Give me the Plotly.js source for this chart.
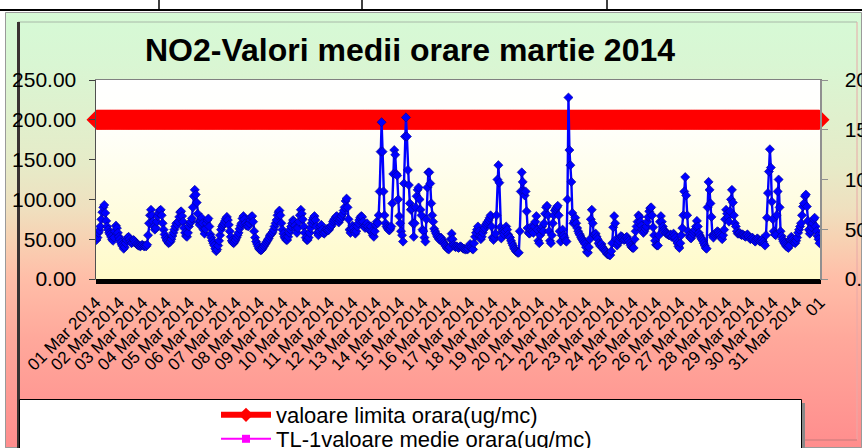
<!DOCTYPE html>
<html>
<head>
<meta charset="utf-8">
<script src="https://cdn.plot.ly/plotly-3.0.1.min.js"></script>
<style>html,body{margin:0;padding:0;background:#fff;}#chart{width:862px;height:448px;}</style>
</head>
<body>
<div id="chart"></div>
<script>
// ---- DATA: NO2 hourly means, March 2014 (ug/mc) ----
const day01 = [49,52,58,61,66,75,84,90,93,83,73,66,62,58,56,53,50,48,52,60,67,64,58,53];
const day02 = [50,46,43,41,38,40,45,49,52,53,50,47,45,46,49,48,46,44,43,42,42,41,42,43];
const day03 = [42,41,42,41,43,55,70,80,87,80,72,66,62,64,72,79,83,86,87,80,70,62,56,52];
const day04 = [49,47,45,46,47,50,54,58,62,66,70,68,72,78,84,85,79,72,64,58,54,53,58,66];
const day05 = [70,72,76,90,104,112,106,96,82,72,68,73,77,70,62,57,63,70,74,76,66,56,52,48];
const day06 = [45,42,38,35,37,42,48,55,62,66,68,70,73,76,78,74,68,60,53,48,46,45,47,49];
const day07 = [52,55,58,63,67,70,76,79,75,70,67,68,66,70,74,78,79,72,60,52,47,44,41,38];
const day08 = [37,36,37,39,41,43,45,47,49,51,54,56,57,59,62,66,70,74,80,84,86,80,70,62];
const day09 = [57,53,51,49,49,53,58,62,66,70,74,72,67,63,58,64,72,80,87,82,75,66,58,52];
const day10 = [49,49,52,58,64,70,74,77,79,74,66,58,55,60,66,68,62,58,57,59,62,63,61,62];
const day11 = [65,66,68,72,74,76,78,79,75,71,74,76,79,82,86,90,98,101,90,75,62,58,63,67];
const day12 = [64,60,57,60,66,70,74,77,79,78,72,66,64,67,70,66,62,61,66,60,55,53,60,68];
const day13 = [72,70,80,110,160,197,160,110,80,70,66,64,62,61,63,66,95,132,162,156,132,130,100,79];
const day14 = [70,60,55,47,120,179,203,179,137,118,95,87,88,70,53,70,90,104,112,115,100,87,80,62];
const day15 = [60,52,47,75,115,134,134,120,95,80,72,63,60,57,54,52,50,49,52,50,47,45,43,41];
const day16 = [39,38,37,40,50,57,50,43,41,40,41,40,39,40,41,40,39,38,38,37,38,37,38,41];
const day17 = [44,40,38,37,45,53,58,62,66,60,54,50,53,58,62,64,68,70,72,74,77,80,66,52];
const day18 = [49,52,57,80,125,143,121,65,51,60,58,56,60,66,62,56,53,52,48,45,42,39,37,35];
const day19 = [34,33,33,60,110,134,122,110,105,110,85,64,58,57,62,66,60,58,66,72,79,62,48,45];
const day20 = [55,62,66,60,70,82,90,92,80,60,48,45,55,70,80,86,88,90,92,80,60,47,55,62];
const day21 = [55,52,48,47,100,228,162,143,122,83,70,73,77,70,64,60,57,55,52,50,48,46,44,40];
const day22 = [34,33,40,50,75,87,70,56,55,57,53,50,45,43,41,44,40,38,36,35,33,31,31,30];
const day23 = [30,35,45,65,79,70,50,42,45,48,52,54,53,51,49,50,52,53,50,48,45,42,40,39];
const day24 = [39,50,60,66,72,80,78,72,67,62,58,60,63,66,72,78,85,89,90,80,65,55,48,43];
const day25 = [42,42,55,72,79,72,66,62,60,58,57,56,55,55,56,53,54,57,55,52,48,45,41,39];
const day26 = [45,55,64,80,110,128,105,80,60,55,52,51,54,57,60,62,66,73,66,58,55,52,50,48];
const day27 = [45,42,39,38,90,122,112,95,78,55,52,55,57,58,60,59,57,55,52,50,55,62,75,87];
const day28 = [82,78,72,85,100,112,96,80,70,66,60,57,57,58,56,55,56,55,54,53,55,56,54,52];
const day29 = [50,51,52,50,48,47,49,51,50,48,47,48,50,47,44,42,55,77,108,135,163,140,97,75];
const day30 = [60,56,55,80,110,125,90,60,54,50,47,45,43,41,40,39,42,50,53,50,47,46,45,48];
const day31 = [52,58,62,66,70,80,91,95,104,106,91,73,62,57,60,65,70,75,77,66,60,54,50,45];

const dayLabels = ['01 Mar 2014','02 Mar 2014','03 Mar 2014','04 Mar 2014','05 Mar 2014','06 Mar 2014',
  '07 Mar 2014','08 Mar 2014','09 Mar 2014','10 Mar 2014','11 Mar 2014','12 Mar 2014','13 Mar 2014',
  '14 Mar 2014','15 Mar 2014','16 Mar 2014','17 Mar 2014','18 Mar 2014','19 Mar 2014','20 Mar 2014',
  '21 Mar 2014','22 Mar 2014','23 Mar 2014','24 Mar 2014','25 Mar 2014','26 Mar 2014','27 Mar 2014',
  '28 Mar 2014','29 Mar 2014','30 Mar 2014','31 Mar 2014','01'];
const limitValue = 200;           // valoare limita orara
const tl1Values = [null];         // TL-1 series: no data shown
const leftTicks = [0,50,100,150,200,250];
const rightTicks = [0,50,100,150,200];

// ---- build ----
const days = [day01,day02,day03,day04,day05,day06,day07,day08,day09,day10,day11,day12,day13,day14,day15,
  day16,day17,day18,day19,day20,day21,day22,day23,day24,day25,day26,day27,day28,day29,day30,day31];
const no2 = [].concat(...days);
const hours = no2.map((v,i)=>i);
const limitSeries = no2.map(()=>limitValue);
// a tick mark between every hourly category, a label every 24 categories
const tickVals = [], tickText = [];
for(let i=0;i<=no2.length;i++){
  tickVals.push(i-0.5);
  tickText.push(i%24===0 ? (dayLabels[i/24]||'') : '');
}

const W=862,H=448,L=96,R=820,T=80,B=279;
const px = x => (x-L)/(R-L);
const py = y => (B-y)/(B-T);
function grad(stops){
  const s = stops.map(a=>`<stop offset="${a[0]}" stop-color="${a[1]}"/>`).join('');
  const svg = `<svg xmlns="http://www.w3.org/2000/svg" width="100" height="100" preserveAspectRatio="none"><defs><linearGradient id="g" x1="0" y1="0" x2="0" y2="1">${s}</linearGradient></defs><rect x="0" y="0" width="100" height="100" fill="url(#g)"/></svg>`;
  return 'data:image/svg+xml;charset=utf-8,' + encodeURIComponent(svg);
}
function img(src,x0,y0,x1,y1){
  return {source:src,xref:'paper',yref:'paper',x:px(x0),y:py(y0),sizex:(x1-x0)/(R-L),sizey:(y1-y0)/(B-T),
    xanchor:'left',yanchor:'top',sizing:'stretch',layer:'below'};
}
function line(x0,y0,x1,y1,color,width,layer){
  return {type:'line',xref:'paper',yref:'paper',x0:px(x0),y0:py(y0),x1:px(x1),y1:py(y1),
    line:{color:color,width:width},layer:layer||'below'};
}
function rect(x0,y0,x1,y1,fill,lc,lw,layer){
  return {type:'rect',xref:'paper',yref:'paper',x0:px(x0),y0:py(y0),x1:px(x1),y1:py(y1),
    fillcolor:fill,line:{color:lc,width:lw},layer:layer||'below'};
}

const FONT = 'Liberation Sans, Arial, sans-serif';
const LEGFONT = {family:FONT,size:22,color:'#000'};

const traces = [
  {x:hours,y:limitSeries,type:'scatter',mode:'lines+markers',name:'valoare limita orara(ug/mc)',
   line:{color:'#ff0000',width:20},marker:{symbol:'diamond',size:15.4,color:'#ff0000'},
   cliponaxis:false,showlegend:false,hoverinfo:'skip'},
  {x:hours,y:no2,type:'scatter',mode:'lines+markers',name:'NO2',
   line:{color:'#0000ff',width:2.4},marker:{symbol:'diamond',size:7,color:'#0000ff',line:{color:'#000090',width:0.6}},
   showlegend:false},
  {x:[null],y:[null],type:'scatter',mode:'lines+markers',name:'valoare limita orara(ug/mc)',
   line:{color:'#ff0000',width:6},marker:{symbol:'diamond',size:11,color:'#ff0000'},legend:'legend'},
  {x:[null],y:tl1Values,type:'scatter',mode:'lines+markers',name:'TL-1valoare medie orara(ug/mc)',yaxis:'y2',
   line:{color:'#ff00ff',width:2},marker:{symbol:'square',size:8,color:'#ff00ff'},legend:'legend2'}
];

const layout = {
  width:W,height:H,
  margin:{l:L,r:W-R,t:T,b:H-B,autoexpand:false},
  paper_bgcolor:'#ffffff',plot_bgcolor:'rgba(0,0,0,0)',
  font:{family:FONT,color:'#000'},
  title:{text:'NO2-Valori medii orare martie 2014',font:{family:FONT,size:32,weight:'bold',color:'#000'},
    x:410/W,xref:'container',xanchor:'center',y:1-50/H,yref:'container',yanchor:'middle'},
  xaxis:{range:[-0.5,743.5],tickmode:'array',tickvals:tickVals,ticktext:tickText,tickangle:-45,
    ticks:'outside',ticklen:4,tickcolor:'#000',tickwidth:1,
    showline:true,linecolor:'#808080',linewidth:1,mirror:true,showgrid:false,zeroline:false,
    tickfont:{family:FONT,size:17,color:'#000'},ticklabelstandoff:2,fixedrange:true},
  yaxis:{range:[0,250],tickmode:'array',tickvals:leftTicks,tickformat:'.2f',ticks:'outside',ticklen:6,
    tickcolor:'#404040',showline:true,linecolor:'#505050',linewidth:1.5,showgrid:false,zeroline:false,
    tickfont:{family:FONT,size:21,color:'#000'},ticklabelstandoff:8,fixedrange:true},
  yaxis2:{overlaying:'y',side:'right',range:[0,200],tickmode:'array',tickvals:rightTicks,tickformat:'.2f',
    ticks:'outside',ticklen:6,tickcolor:'#909090',showline:true,linecolor:'#909090',linewidth:1.5,
    showgrid:false,zeroline:false,tickfont:{family:FONT,size:21,color:'#000'},ticklabelstandoff:13,fixedrange:true},
  legend:{xref:'paper',yref:'paper',x:px(216),xanchor:'left',y:py(394),yanchor:'top',
    bgcolor:'rgba(0,0,0,0)',borderwidth:0,itemwidth:50,font:LEGFONT},
  legend2:{xref:'paper',yref:'paper',x:px(216),xanchor:'left',y:py(418),yanchor:'top',
    bgcolor:'rgba(0,0,0,0)',borderwidth:0,itemwidth:50,font:LEGFONT},
  images:[
    img(grad([[0,'#d6fad6'],[0.12,'#d9f6d3'],[0.35,'#e6ebc8'],[0.45,'#efe0bf'],[0.52,'#f7d2b3'],
      [0.61,'#ffbea8'],[0.75,'#ffa89b'],[1,'#ff8d8d']]),5,12,862,448),
    img(grad([[0,'#ffffff'],[0.25,'#fffffa'],[1,'#fffac8']]),L,T,R,B)
  ],
  shapes:[
    line(0,10,862,10,'#000',2),
    line(159,0,159,10,'#000',1.5),
    line(362,0,362,10,'#000',1.5),
    line(607,0,607,10,'#000',1.5),
    rect(5.5,12.5,861.5,447.5,'rgba(0,0,0,0)','#9a9a9a',1),
    line(18,22,857,22,'#a8b8a8',1),
    line(857,22,857,440,'#e8a8a8',1),
    line(18,440,857,440,'#d88080',1.5),
    line(18.5,22,18.5,448,'#3a3232',3),
    rect(802,403,805,450,'#888888','rgba(0,0,0,0)',0),
    rect(19.5,399.5,801.5,452,'#ffffff','#000000',1),
    // dense category tick band under the plot area
    rect(L,B,R,B+4.5,'#000000','rgba(0,0,0,0)',0,'above')
  ],
  showlegend:true
};

Plotly.newPlot('chart',traces,layout,{displayModeBar:false,staticPlot:true});
</script>
</body>
</html>
